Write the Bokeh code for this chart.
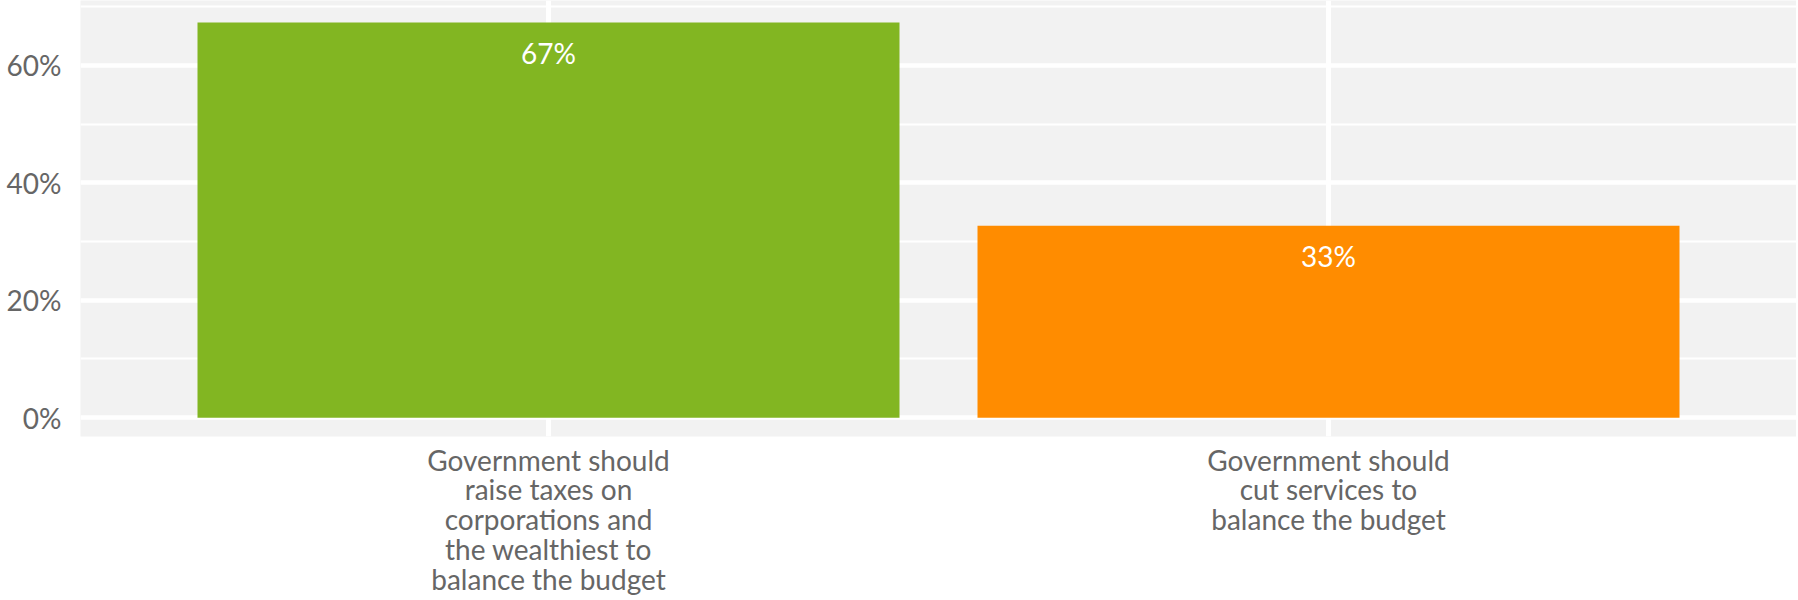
from bokeh.plotting import figure
from bokeh.models import ColumnDataSource, FactorRange, Range1d, FixedTicker, LabelSet
from bokeh.core.properties import value
from bokeh.embed import file_html
from bokeh.resources import INLINE

categories = [
    "Government should\nraise taxes on\ncorporations and\nthe wealthiest to\nbalance the budget",
    "Government should\ncut services to\nbalance the budget",
]
values = [67.3, 32.7]
colors = ["#82B622", "#FF8C00"]
labels = [f"{round(v)}%" for v in values]
y_ticks = [0, 20, 40, 60]
y_minor = [10, 30, 50, 70]

FONT = "Lato"

src = ColumnDataSource(dict(cat=categories, val=values, color=colors, label=labels))

p = figure(
    x_range=FactorRange(factors=categories, range_padding=0.1),
    y_range=Range1d(-3.2, 71.05),
    frame_width=1716, frame_height=436,
    min_border_left=80, min_border_right=0, min_border_top=0, min_border_bottom=0,
    output_backend="svg", toolbar_location=None,
)

p.vbar(x="cat", top="val", width=0.9, color="color", source=src, line_color=None)

p.add_layout(LabelSet(x="cat", y="val", text="label", source=src, text_color="#FFFFFF",
                      text_font=value(FONT), text_font_size="28px", text_align="center",
                      text_baseline="middle", y_offset=-30))

p.background_fill_color = "#F2F2F2"
p.border_fill_color = "#FFFFFF"
p.outline_line_color = None

p.yaxis.ticker = FixedTicker(ticks=y_ticks, minor_ticks=y_minor)
p.yaxis.major_label_overrides = {t: f"{t}%" for t in y_ticks}
for ax in (p.xaxis, p.yaxis):
    ax.axis_line_color = None
    ax.major_tick_line_color = None
    ax.minor_tick_line_color = None
    ax.major_tick_out = 0
    ax.major_tick_in = 0
    ax.major_label_text_font = FONT
    ax.major_label_text_font_size = "28px"
    ax.major_label_text_color = "#666666"
p.yaxis.major_label_standoff = 15
p.xaxis.major_label_standoff = 6
p.xaxis.major_label_text_line_height = 0.88

p.ygrid.grid_line_color = "#FFFFFF"
p.ygrid.grid_line_width = 4.5
p.ygrid.minor_grid_line_color = "#FFFFFF"
p.ygrid.minor_grid_line_width = 2
p.xgrid.grid_line_color = "#FFFFFF"
p.xgrid.grid_line_width = 5

open("out.html", "w").write(file_html(p, INLINE))
